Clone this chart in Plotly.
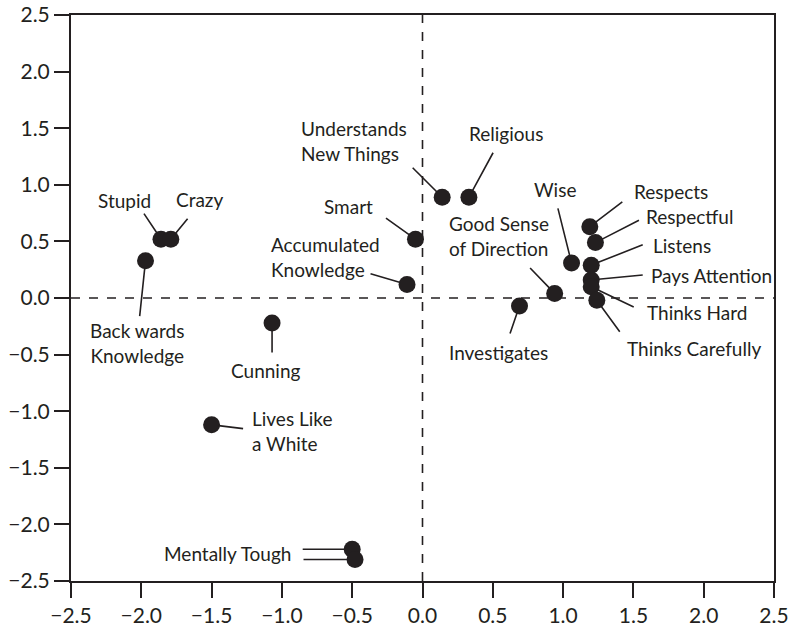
import plotly.graph_objects as go

# ---- data ----
terms = ["Stupid", "Crazy", "Back wards<br>Knowledge", "Smart", "Accumulated<br>Knowledge",
         "Understands<br>New Things", "Religious", "Wise", "Good Sense<br>of Direction",
         "Respects", "Respectful", "Listens", "Pays Attention", "Thinks Hard",
         "Thinks Carefully", "Investigates", "Cunning", "Lives Like<br>a White",
         "Mentally Tough", "Mentally Tough"]
x_vals = [-1.86, -1.79, -1.97, -0.05, -0.11, 0.14, 0.33, 1.06, 0.94, 1.19, 1.23, 1.20, 1.20,
          1.20, 1.24, 0.69, -1.07, -1.50, -0.50, -0.48]
y_vals = [0.52, 0.52, 0.33, 0.52, 0.12, 0.89, 0.89, 0.31, 0.04, 0.63, 0.49, 0.29, 0.16,
          0.10, -0.02, -0.07, -0.22, -1.12, -2.22, -2.31]
tick_vals = [-2.5, -2.0, -1.5, -1.0, -0.5, 0.0, 0.5, 1.0, 1.5, 2.0, 2.5]
tick_text = ["\u22122.5", "\u22122.0", "\u22121.5", "\u22121.0", "\u22120.5", "0.0",
             "0.5", "1.0", "1.5", "2.0", "2.5"]

# ---- label placement (pixel offsets from each point: leader end, text centre, alignment, show text) ----
lead_dx = [-18, 18, -6, -31, -38, -31, 25, -14, -26, 34, 45, 53, 53, 44, 24, -10, 0, 33, -51, -53]
lead_dy = [-27, -22, 57, -22, -11, -31, -46, -56, -27, -26, -23, -21, -5, 21, 33, 29, 31, 4, 0, 0]
text_dx = [-36, 29, -9, -67, -82, -88, 37, -17, -56, 81, 94, 91, 120, 106, 97, -21, -7, 80, -125, 0]
text_dy = [-39, -40, 82, -33, -27, -56, -64, -73, -57, -35, -26, -20, -4, 26, 48, 47, 48, 6, 4, 0]
text_align = ["center", "center", "center", "center", "left", "left", "center", "center", "left",
              "center", "center", "center", "center", "center", "center", "center", "center",
              "left", "center", "center"]
show_text = [True] * 19 + [False]

INK = "#231f20"
FONT = "Lato, 'Open Sans', sans-serif"

fig = go.Figure()
fig.add_trace(go.Scatter(x=x_vals, y=y_vals, mode="markers",
                         marker=dict(size=17, color=INK), hoverinfo="skip", showlegend=False))

annotations = []
for i in range(len(terms)):
    annotations.append(dict(x=x_vals[i], y=y_vals[i], xref="x", yref="y", text="",
                            showarrow=True, arrowhead=0, arrowwidth=1.6, arrowcolor=INK,
                            ax=lead_dx[i], ay=lead_dy[i], standoff=7))
    if show_text[i]:
        annotations.append(dict(x=x_vals[i], y=y_vals[i], xref="x", yref="y", text=terms[i],
                                showarrow=False, xshift=text_dx[i], yshift=-text_dy[i],
                                align=text_align[i],
                                font=dict(family=FONT, size=19, color=INK)))

axis_common = dict(range=[-2.5, 2.5], tickmode="array", tickvals=tick_vals, ticktext=tick_text,
                   showgrid=False, zeroline=False, showline=True, linecolor=INK, linewidth=2,
                   mirror=True, ticks="outside", ticklen=15, tickwidth=2, tickcolor=INK,
                   automargin=False, ticklabeloverflow="allow",
                   tickfont=dict(family=FONT, size=21, color=INK))

fig.update_layout(
    width=803, height=628,
    margin=dict(l=71, r=29, t=15, b=47, autoexpand=False),
    paper_bgcolor="white", plot_bgcolor="white",
    xaxis=axis_common, yaxis=axis_common,
    annotations=annotations,
    shapes=[
        dict(type="line", xref="x", yref="paper", x0=0, x1=0, y0=0, y1=1,
             line=dict(color=INK, width=1.6, dash="dash"), layer="below"),
        dict(type="line", xref="paper", yref="y", x0=0, x1=1, y0=0, y1=0,
             line=dict(color=INK, width=1.6, dash="dash"), layer="below"),
    ],
)

# remove the default 8px page margin so the figure fills the window exactly
fig.write_html("out.html",
               config={"displayModeBar": False, "staticPlot": True},
               post_script="document.body.style.margin='0px';document.body.style.overflow='hidden';")
